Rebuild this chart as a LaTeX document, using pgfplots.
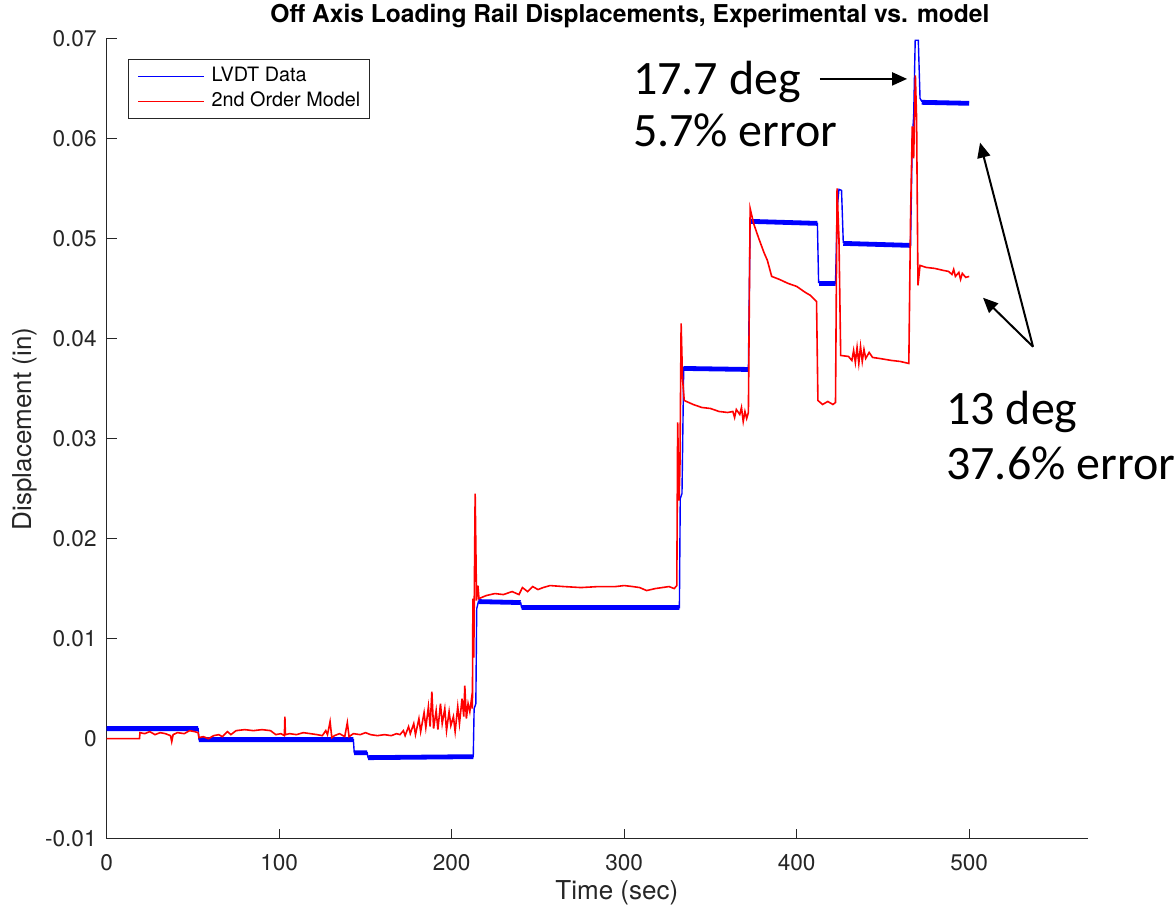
\documentclass[border=0pt]{standalone}
\usepackage{pgfplots}
\pgfplotsset{compat=1.18}
\usepackage{fontspec}
\setmainfont{TeX Gyre Heros}
\newfontfamily\calibri{Carlito}
\usetikzlibrary{arrows.meta}
\definecolor{axgray}{RGB}{38,38,38}
\begin{document}
\begin{tikzpicture}
\useasboundingbox (-53.35pt,-34.65pt) rectangle (534.65pt,419.35pt);
\begin{axis}[
  at={(0,0)}, anchor=south west,
  scale only axis, width=490.5pt, height=400.2pt,
  xmin=0, xmax=568.7, ymin=-0.01, ymax=0.07,
  clip=false, scaled y ticks=false, scaled x ticks=false,
  axis x line*=bottom, axis y line*=left,
  axis line style={-, draw=axgray, line width=0.6pt},
  tick align=inside, major tick length=5pt,
  tick style={draw=axgray, line width=0.6pt},
  xtick={0,100,200,300,400,500},
  xticklabels={0,100,200,300,400,500},
  ytick={-0.01,0,0.01,0.02,0.03,0.04,0.05,0.06,0.07},
  yticklabels={-0.01,0,0.01,0.02,0.03,0.04,0.05,0.06,0.07},
  ticklabel style={font=\fontsize{11.3}{13}\selectfont, text=axgray},
  xticklabel style={anchor=north, inner sep=0pt, yshift=-7.5pt},
  yticklabel style={anchor=east, inner sep=0pt, xshift=-4.85pt},
  xlabel={Time (sec)}, ylabel={Displacement (in)},
  label style={font=\fontsize{13}{15}\selectfont, text=axgray},
  xlabel style={at={(axis description cs:0.52,-0.067)}, anchor=center},
  ylabel style={at={(axis description cs:-0.0838,0.512)}, anchor=center},
  title={Off Axis Loading Rail Displacements, Experimental vs. model},
  title style={at={(axis description cs:0.5334,1.00437)}, anchor=base, inner sep=0pt, font=\bfseries\fontsize{12.3}{14}\selectfont},
  legend style={at={(axis description cs:0.0217,0.9741)}, anchor=north west,
    draw=axgray, line width=0.5pt, fill=white,
    font=\fontsize{9.9}{11}\selectfont,
    inner xsep=4.5pt, inner ysep=4pt,
    nodes={inner xsep=0pt, inner ysep=0pt, text height=7pt, text depth=2pt},
    column sep=3.5pt, row sep=3.5pt},
  legend cell align=left,
  legend image code/.code={\draw[#1, line width=0.6pt] (0pt,0pt) -- (33pt,0pt);},
]
% LVDT noise band (flat segments)
\addplot[blue, line width=2.4pt, forget plot, unbounded coords=jump] coordinates {
(0,0.0010) (53,0.0010) (53.2,nan)
(53.5,-0.0001) (143,-0.0001) (143.2,nan)
(143.5,-0.0014) (151,-0.0014) (151.2,nan)
(151.5,-0.0019) (212.5,-0.0018) (213,nan)
(215.5,0.0137) (240,0.0136) (240.2,nan)
(240.5,0.0131) (332,0.0131) (332.2,nan)
(334.5,0.0370) (372,0.0369) (372.5,nan)
(373.5,0.0517) (412,0.0515) (412.5,nan)
(413,0.0455) (422.5,0.0455) (423,nan)
(427,0.0495) (466,0.0493) (466.5,nan)
(472.5,0.0636) (500,0.0635)
};
% LVDT Data
\addplot[blue, line width=0.7pt] coordinates {
(0,0.0010) (53,0.0010) (53.5,-0.0001) (143,-0.0001) (143.5,-0.0014) (151,-0.0014)
(151.5,-0.0019) (212.5,-0.0018) (213,0.0030) (214,0.0035) (214.5,0.0130) (215.5,0.0137)
(240,0.0136) (240.5,0.0131) (332,0.0131) (332.5,0.0240) (333.5,0.0245) (334.5,0.0371)
(372,0.0370) (373,0.0518) (412,0.0515) (412.7,0.0456) (422.5,0.0455) (423.5,0.0530)
(424.5,0.0549) (426,0.0548) (427,0.0496) (466,0.0493) (467,0.0600) (467.8,0.0622)
(468.7,0.0698) (470.5,0.0698) (471.5,0.0640) (472.5,0.0637) (500,0.0636)
};
\addlegendentry{LVDT Data}
% 2nd order model
\addplot[red, line width=0.8pt] coordinates {
(0,0.0000) (19,0.0000) (19.3,0.0006) (22,0.0005) (25,0.0007) (28,0.0004) (31,0.0006)
(34,0.0005) (37,0.0003) (37.7,-0.0003) (38.5,0.0004) (41,0.0006) (45,0.0005) (48,0.0008)
(51,0.0007) (53,0.0006) (53.5,0.0001) (56,0.0002) (59,0.0000) (62,0.0003) (65,0.0004)
(67,0.0002) (70,0.0007) (72,0.0004) (75,0.0008) (80,0.0009) (85,0.0008) (90,0.0009)
(95,0.0008) (98,0.0004) (101,0.0005) (103,0.0003) (103.3,0.0022) (103.6,0.0004)
(106,0.0005) (110,0.0004) (114,0.0006) (118,0.0005) (122,0.0004) (125,0.0003)
(127,0.0008) (128,0.0004) (129.5,0.0017) (130.5,0.0001) (132,0.0003) (135,0.0005)
(138,0.0002) (139.5,0.0016) (140.5,0.0002) (143,0.0005) (147,0.0004) (150,0.0006)
(153,0.0004) (157,0.0003) (161,0.0004) (165,0.0003) (168,0.0005) (170,0.0004)
(172,0.0008) (173,0.0003) (175,0.0012) (176,0.0005) (178,0.0015) (179,0.0004)
(181,0.0020) (182,0.0007) (184,0.0026) (185,0.0011) (186.5,0.0032) (187.5,0.0012)
(188.5,0.0047) (189.5,0.0010) (191,0.0028) (192,0.0009) (193.5,0.0035) (194.5,0.0015)
(196,0.0030) (197,0.0008) (198.5,0.0027) (199.5,0.0013) (201,0.0022) (202,0.0007)
(203.5,0.0032) (204.5,0.0015) (206,0.0040) (207,0.0022) (207.6,0.0053) (208.5,0.0020)
(209.5,0.0035) (210.5,0.0027) (211.5,0.0040) (212,0.0030) (212.3,0.0140) (212.8,0.0081)
(213.6,0.0245) (214.4,0.0138) (215.2,0.0153) (215.8,0.0140) (220,0.0143) (225,0.0145)
(230,0.0144) (235,0.0147) (239,0.0144) (241,0.0151) (244,0.0147) (247,0.0152)
(250,0.0149) (253,0.0151) (257,0.0153) (265,0.0152) (275,0.0151) (285,0.0152)
(295,0.0152) (300,0.0153) (305,0.0152) (309,0.0151) (313,0.0148) (318,0.0150)
(322,0.0151) (326,0.0152) (329,0.0150) (330.5,0.0153) (331,0.0316) (331.8,0.0238)
(332.3,0.0270) (333,0.0415) (333.8,0.0360) (334.8,0.0338) (340,0.0334) (345,0.0331)
(350,0.0330) (355,0.0327) (360,0.0326) (363,0.0327) (364,0.0321) (365,0.0329)
(367,0.0324) (368,0.0331) (369,0.0317) (370,0.0327) (371,0.0320) (372,0.0326)
(373,0.0530) (375,0.0515) (378,0.0500) (381,0.0486) (383,0.0478) (385.5,0.0462)
(390,0.0459) (395,0.0455) (400,0.0452) (405,0.0446) (408,0.0443) (411.5,0.0437)
(412.3,0.0338) (415,0.0334) (418,0.0337) (421,0.0334) (422.5,0.0336) (423.4,0.0550)
(424.5,0.0500) (425.5,0.0383) (430,0.0382) (432,0.0378) (433,0.0388) (434,0.0376)
(435,0.0391) (436,0.0375) (437,0.0392) (438,0.0377) (439,0.0389) (440,0.0380)
(442,0.0386) (444,0.0381) (448,0.0380) (455,0.0378) (460,0.0377) (465,0.0375)
(466,0.0520) (467,0.0612) (467.8,0.0580) (468.8,0.0663) (469.5,0.0620) (470.3,0.0453)
(471.5,0.0473) (475,0.0471) (480,0.0470) (485,0.0468) (488,0.0467) (490,0.0464)
(491,0.0469) (492,0.0462) (494,0.0466) (495,0.0459) (496,0.0465) (498,0.0461)
(500,0.0462)
};
\addlegendentry{2nd Order Model}
% annotations
\node[anchor=base west, inner sep=0pt, font=\calibri\fontsize{24}{28}\selectfont] at (axis cs:304.9,0.06437) {17.7 deg};
\node[anchor=base west, inner sep=0pt, font=\calibri\fontsize{24}{28}\selectfont] at (axis cs:304.9,0.0592) {5.7\% error};
\node[anchor=base west, inner sep=0pt, font=\calibri\fontsize{24}{28}\selectfont] at (axis cs:486.5,0.03137) {13 deg};
\node[anchor=base west, inner sep=0pt, font=\calibri\fontsize{24}{28}\selectfont] at (axis cs:486.5,0.02587) {37.6\% error};
\draw[-{Triangle[length=7.5pt,width=6.5pt]}, line width=1pt] (axis cs:413.5,0.06594) -- (axis cs:464,0.06594);
\draw[-{Triangle[length=7.5pt,width=6.5pt]}, line width=1pt] (axis cs:537,0.03917) -- (axis cs:506.3,0.05957);
\draw[-{Triangle[length=7.5pt,width=6.5pt]}, line width=1pt] (axis cs:537,0.03917) -- (axis cs:508,0.04407);
\end{axis}
\end{tikzpicture}
\end{document}
